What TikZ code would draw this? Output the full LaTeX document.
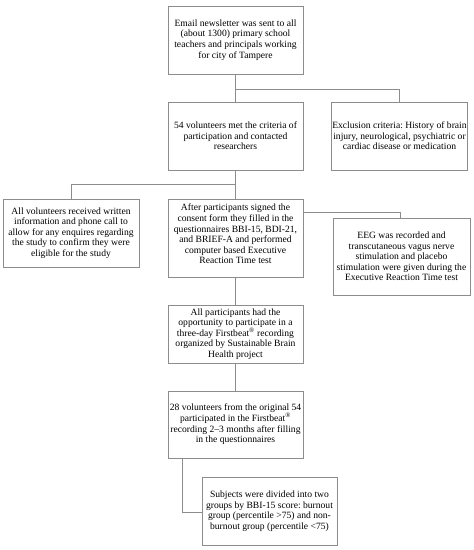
\documentclass[tikz,border=0pt]{standalone}
\usepackage{fontspec}
\setmainfont{Liberation Serif}
\frenchspacing
\begin{document}
\begin{tikzpicture}[x=1pt,y=-1pt,
  box/.style={draw=black!45,line width=0.9pt,fill=white,rectangle,align=center,inner sep=1pt,
    font=\fontsize{9.6}{10.6}\selectfont},
  link/.style={draw=black!45,line width=0.9pt}]
\useasboundingbox (0,0) rectangle (474,550);
\node[box,minimum width=135,minimum height=68] (b1) at (235.5,40)
  {Email newsletter was sent to all\\(about 1300) primary school\\teachers and principals working\\for city of Tampere};
\node[box,minimum width=135,minimum height=68] (b2) at (235.5,136)
  {54 volunteers met the criteria of\\participation and contacted\\researchers};
\node[box,minimum width=135,minimum height=68] (b3) at (399.5,136)
  {Exclusion criteria: History of brain\\injury, neurological, psychiatric or\\cardiac disease or medication};
\node[box,minimum width=136,minimum height=68] (b4) at (71,233)
  {All volunteers received written\\information and phone call to\\allow for any enquires regarding\\the study to confirm they were\\eligible for the study};
\node[box,minimum width=135,minimum height=78,text depth=8pt] (b5) at (235.5,238)
  {After participants signed the\\consent form they filled in the\\questionnaires BBI-15, BDI-21,\\and BRIEF-A and performed\\computer based Executive\\Reaction Time test};
\node[box,minimum width=137,minimum height=77] (b6) at (401.5,256.5)
  {EEG was recorded and\\transcutaneous vagus nerve\\stimulation and placebo\\stimulation were given during the\\Executive Reaction Time test};
\node[box,minimum width=135,minimum height=58] (b7) at (235.5,334)
  {All participants had the\\opportunity to participate in a\\three-day Firstbeat\textsuperscript{®} recording\\organized by Sustainable Brain\\Health project};
\node[box,minimum width=135,minimum height=67] (b8) at (235.5,424.5)
  {28 volunteers from the original 54\\participated in the Firstbeat\textsuperscript{®}\\recording 2–3 months after filling\\in the questionnaires};
\node[box,minimum width=135,minimum height=68] (b9) at (269.5,511)
  {Subjects were divided into two\\groups by BBI-15 score: burnout\\group (percentile >75) and non-\\burnout group (percentile <75)};
\coordinate (j1) at (236,89);
\coordinate (j2) at (236,184);
\coordinate (j3) at (400,212);
\coordinate (j4) at (182,512);
\draw[link] (b1.south) -- (b2.north);
\draw[link] (j1) -- (j1 -| b3.north) -- (b3.north);
\draw[link] (b2.south) -- (b5.north);
\draw[link] (j2) -- (j2 -| b4.north) -- (b4.north);
\draw[link] (b5.east |- j3) -- (j3) -- (j3 |- b6.north);
\draw[link] (b5.south) -- (b7.north);
\draw[link] (b7.south) -- (b8.north);
\draw[link] (b8.south -| j4) -- (j4) -- (b9.west |- j4);
\end{tikzpicture}
\end{document}
